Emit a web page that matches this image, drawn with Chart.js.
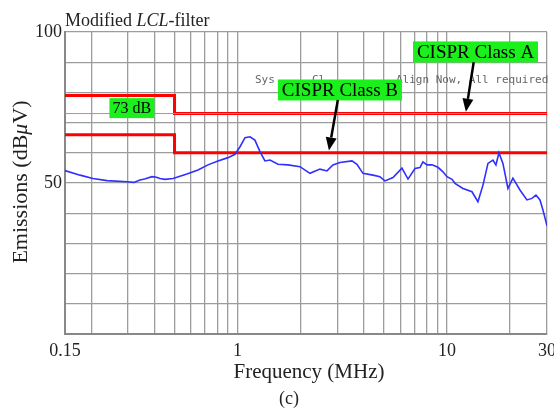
<!DOCTYPE html>
<html>
<head>
<meta charset="utf-8">
<script src="https://cdn.jsdelivr.net/npm/chart.js@4.4.1/dist/chart.umd.min.js"></script>
<style>
  html, body { margin: 0; padding: 0; background: #fff; }
  #wrap { width: 554px; height: 409px; }
</style>
</head>
<body>
<div id="wrap"><canvas id="graph" width="554" height="409"></canvas></div>
<script>
const freqMHz = [
  0.15, 0.177, 0.204, 0.238, 0.297, 0.32, 0.342, 0.36, 0.39, 0.41, 0.426, 0.45, 0.492,
  0.573, 0.647, 0.722, 0.806, 0.9, 0.972, 1.027, 1.085, 1.146, 1.21, 1.279, 1.351,
  1.428, 1.559, 1.74, 1.986, 2.216, 2.474, 2.672, 2.853, 3.081, 3.516, 3.715, 3.968,
  4.43, 4.78, 5.05, 5.52, 6.09, 6.51, 7.03, 7.42, 7.67, 8.02, 8.47, 9.05, 9.56, 9.99,
  10.56, 10.91, 11.91, 13.15, 14.04, 14.84, 15.68, 16.56, 17.11, 17.69, 18.48, 19.53,
  20.63, 22.28, 24.06, 25.42, 26.57, 27.77, 28.68, 30
];
const emissions = [
  54.1, 52.6, 51.5, 50.8, 50.4, 50.2, 51.0, 51.3, 52.1, 51.9, 51.5, 51.2, 51.5,
  53.0, 54.3, 56.0, 57.3, 58.4, 59.5, 62.0, 65.0, 65.3, 64.2, 60.4, 57.3,
  57.6, 56.2, 56.0, 55.4, 53.2, 54.6, 54.0, 56.0, 56.8, 57.3, 56.2, 53.2,
  52.6, 52.1, 50.7, 51.8, 54.9, 51.3, 54.8, 55.1, 57.0, 56.0, 56.0, 55.2, 53.7, 52.1,
  51.2, 49.9, 48.2, 47.1, 43.8, 49.3, 56.5, 57.6, 56.0, 60.0, 56.5, 48.2,
  51.6, 47.7, 44.4, 44.9, 46.0, 44.4, 41.1, 35.8
];

// CISPR limit lines
const limitFreq = [0.15, 0.5, 0.5, 30];
const classA = [79, 79, 73, 73];
const classB = [66, 66, 60, 60];
const markFreq = [0.15, 30];
const markLevel = [73, 73];

// axes
const xTicks = [0.15, 0.2, 0.3, 0.4, 0.5, 0.6, 0.7, 0.8, 0.9, 1, 2, 3, 4, 5, 6, 7, 8, 9, 10, 20, 30];
const xLabels = [0.15, 1, 10, 30];
const yLabels = [50, 100];

const serif = "'Liberation Serif', 'Times New Roman', serif";

function pts(xs, ys) {
  return xs.map((v, i) => ({ x: v, y: ys[i] }));
}

function arrow(ctx, x1, y1, x2, y2) {
  const a = Math.atan2(y2 - y1, x2 - x1);
  const len = 13, w = 5.5;
  const bx = x2 - len * Math.cos(a), by = y2 - len * Math.sin(a);
  ctx.save();
  ctx.strokeStyle = "#000";
  ctx.fillStyle = "#000";
  ctx.lineWidth = 2.5;
  ctx.beginPath();
  ctx.moveTo(x1, y1);
  ctx.lineTo(bx, by);
  ctx.stroke();
  ctx.beginPath();
  ctx.moveTo(x2, y2);
  ctx.lineTo(bx + w * Math.sin(a), by - w * Math.cos(a));
  ctx.lineTo(bx - w * Math.sin(a), by + w * Math.cos(a));
  ctx.closePath();
  ctx.fill();
  ctx.restore();
}

function greenBox(ctx, cx, cy, w, h, text, size) {
  ctx.save();
  ctx.fillStyle = "#1cf01c";
  ctx.fillRect(cx - w / 2, cy - h / 2, w, h);
  ctx.fillStyle = "#000";
  ctx.font = size + "px " + serif;
  ctx.textAlign = "center";
  ctx.textBaseline = "middle";
  ctx.fillText(text, cx, cy + 1);
  ctx.restore();
}

const decorations = {
  id: "decorations",
  afterDatasetsDraw(chart) {
    const { ctx } = chart;
    const x = chart.scales.x, y = chart.scales.y;

    // faint screen text behind the labels
    ctx.save();
    ctx.fillStyle = "#666";
    ctx.font = "11px 'DejaVu Sans Mono', monospace";
    ctx.textBaseline = "middle";
    ctx.fillText("Sys", 255, 80);
    ctx.fillText("Cl", 312, 80);
    ctx.fillText("Align Now, All required", 396, 80);
    ctx.restore();

    greenBox(ctx, x.getPixelForValue(0.313), y.getPixelForValue(74.8), 45, 20, "73 dB", 16);
    greenBox(ctx, x.getPixelForValue(13.67), y.getPixelForValue(93.4), 125, 21, "CISPR Class A", 19);
    greenBox(ctx, x.getPixelForValue(3.08), y.getPixelForValue(80.8), 124, 21, "CISPR Class B", 19);

    arrow(ctx, x.getPixelForValue(13.4), y.getPixelForValue(90), x.getPixelForValue(12.3), y.getPixelForValue(73.6));
    arrow(ctx, x.getPixelForValue(3.01), y.getPixelForValue(77.5), x.getPixelForValue(2.73), y.getPixelForValue(60.8));
  },
  afterDraw(chart) {
    const { ctx } = chart;
    ctx.save();
    ctx.fillStyle = "#222";
    ctx.textBaseline = "alphabetic";

    // title with italic LCL
    let tx = 65;
    ctx.font = "18px " + serif;
    ctx.fillText("Modified ", tx, 26);
    tx += ctx.measureText("Modified ").width;
    ctx.font = "italic 18px " + serif;
    ctx.fillText("LCL", tx, 26);
    tx += ctx.measureText("LCL").width;
    ctx.font = "18px " + serif;
    ctx.fillText("-filter", tx, 26);

    // y axis title
    ctx.save();
    ctx.translate(21, 182);
    ctx.rotate(-Math.PI / 2);
    ctx.textBaseline = "middle";
    const parts = [["Emissions (dB", ""], ["\u03bc", "italic "], ["V)", ""]];
    let total = 0;
    parts.forEach(p => { ctx.font = p[1] + "22px " + serif; total += ctx.measureText(p[0]).width; });
    let px = -total / 2;
    parts.forEach(p => {
      ctx.font = p[1] + "22px " + serif;
      ctx.fillText(p[0], px, 0);
      px += ctx.measureText(p[0]).width;
    });
    ctx.restore();

    // x axis title and caption
    ctx.textAlign = "center";
    ctx.textBaseline = "middle";
    ctx.font = "21px " + serif;
    ctx.fillText("Frequency (MHz)", 309, 372);
    ctx.font = "18px " + serif;
    ctx.fillText("(c)", 289, 399);
    ctx.restore();
  }
};

const graph = document.getElementById("graph");

new Chart(graph, {
  type: "line",
  data: {
    datasets: [
      {
        label: "Emissions",
        data: pts(freqMHz, emissions),
        borderColor: "#2f2fff",
        borderWidth: 1.6,
        pointRadius: 0,
        tension: 0,
      },
      {
        label: "73 dB",
        data: pts(markFreq, markLevel),
        borderColor: "#ff55ff",
        borderWidth: 1,
        pointRadius: 0,
      },
      {
        label: "CISPR Class A",
        data: pts(limitFreq, classA),
        borderColor: "#ff0000",
        borderWidth: 3,
        pointRadius: 0,
      },
      {
        label: "CISPR Class B",
        data: pts(limitFreq, classB),
        borderColor: "#ff0000",
        borderWidth: 3,
        pointRadius: 0,
      },
    ],
  },
  options: {
    responsive: false,
    animation: false,
    layout: { padding: { left: 0, top: 32, right: 7, bottom: 0 } },
    scales: {
      x: {
        type: "logarithmic",
        min: 0.15,
        max: 30,
        afterBuildTicks(scale) {
          scale.ticks = xTicks.map(v => ({ value: v }));
        },
        afterFit(scale) {
          scale.height = 75;
          scale.paddingLeft = 0;
          scale.paddingRight = 0;
        },
        ticks: {
          autoSkip: false,
          maxRotation: 0,
          minRotation: 0,
          padding: 6,
          color: "#222",
          font: { family: serif, size: 18 },
          callback(value) {
            return xLabels.includes(value) ? String(value) : "";
          },
        },
        grid: { color: "#9c9c9c", lineWidth: 1.3, drawTicks: false },
        border: { color: "#888", width: 2 },
      },
      y: {
        min: 0,
        max: 100,
        afterFit(scale) {
          scale.width = 65;
          scale.paddingTop = 0;
          scale.paddingBottom = 0;
        },
        ticks: {
          stepSize: 10,
          padding: 3,
          color: "#222",
          font: { family: serif, size: 18 },
          callback(value) {
            return yLabels.includes(value) ? String(value) : "";
          },
        },
        grid: { color: "#9c9c9c", lineWidth: 1.3, drawTicks: false },
        border: { color: "#888", width: 2 },
      },
    },
    plugins: {
      legend: { display: false },
      tooltip: { enabled: false },
    },
  },
  plugins: [decorations],
});
</script>
</body>
</html>
